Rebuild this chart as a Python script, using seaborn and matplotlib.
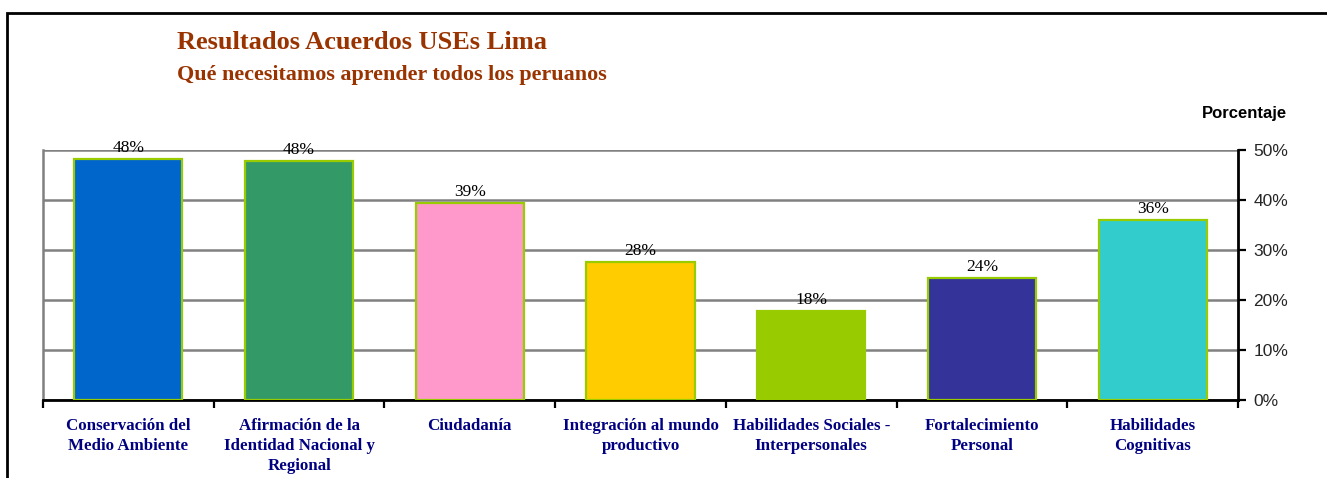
import matplotlib
matplotlib.use("Agg")
import matplotlib.pyplot as plt
import seaborn as sns
import pandas as pd
from matplotlib.patches import Rectangle
from matplotlib.ticker import FixedLocator, FuncFormatter

categories = [
    "Conservación del\nMedio Ambiente",
    "Afirmación de la\nIdentidad Nacional y\nRegional",
    "Ciudadanía",
    "Integración al mundo\nproductivo",
    "Habilidades Sociales -\nInterpersonales",
    "Fortalecimiento\nPersonal",
    "Habilidades\nCognitivas",
]
values = [48.2, 47.8, 39.4, 27.7, 17.8, 24.4, 36.1]
bar_colors = ["#0066CC", "#339966", "#FF99CC", "#FFCC00", "#99CC00", "#333399", "#33CCCC"]
y_ticks = [0, 10, 20, 30, 40, 50]
title = "Resultados Acuerdos USEs Lima"
subtitle = "Qué necesitamos aprender todos los peruanos"
y_title = "Porcentaje"

sns.set_theme(style="white")
plt.rcParams["font.family"] = ["Liberation Serif", "DejaVu Sans"]

W, H = 1327, 478
fig = plt.figure(figsize=(W / 100, H / 100), dpi=100)
fig.patch.set_facecolor("white")
ax = fig.add_axes([43 / W, 78 / H, 1195 / W, 250 / H])

df = pd.DataFrame({"cat": categories, "val": values})
sns.barplot(data=df, x="cat", y="val", hue="cat", palette=bar_colors, legend=False,
            width=0.633, edgecolor="#99CC00", linewidth=1.6, saturation=1, ax=ax, zorder=3)

ax.set_xlim(-0.5, len(categories) - 0.5)
ax.set_ylim(0, 50)
ax.set_xlabel("")
ax.set_ylabel("")

# grid
ax.yaxis.grid(True, color="#808080", linewidth=1.8)
ax.xaxis.grid(False)
ax.set_axisbelow(True)

# spines
ax.spines["left"].set_color("#808080")
ax.spines["left"].set_linewidth(1.8)
ax.spines["top"].set_visible(False)
ax.spines["bottom"].set_color("black")
ax.spines["bottom"].set_linewidth(2)
ax.spines["right"].set_color("black")
ax.spines["right"].set_linewidth(2)

# y axis on right
ax.yaxis.tick_right()
ax.yaxis.set_major_locator(FixedLocator(y_ticks))
ax.yaxis.set_major_formatter(FuncFormatter(lambda v, p: f"{int(v)}%"))
ax.tick_params(axis="y", which="major", direction="out", length=6, width=1.6,
               color="black", labelsize=12.5, pad=5, right=True, left=False)
for lab in ax.get_yticklabels():
    lab.set_fontfamily(["Liberation Sans", "DejaVu Sans"])

# x axis: labels at centers, tick marks at boundaries
ax.set_xticks(range(len(categories)))
ax.set_xticklabels(categories)
ax.set_xticks([i - 0.5 for i in range(len(categories) + 1)], minor=True)
ax.tick_params(axis="x", which="major", length=0, pad=13)
ax.tick_params(axis="x", which="minor", direction="out", length=6, width=1.6,
               color="black", bottom=True)
for lab in ax.get_xticklabels():
    lab.set_fontfamily(["Liberation Serif", "DejaVu Sans"])
    lab.set_fontweight("bold")
    lab.set_fontsize(12.2)
    lab.set_color("#000080")
    lab.set_linespacing(1.32)
    lab.set_verticalalignment("top")

# data labels
for i, v in enumerate(values):
    ax.annotate(f"{round(v)}%", (i, v), xytext=(0, 5), textcoords="offset points",
                ha="center", va="baseline", fontsize=12.5, color="black",
                family=["Liberation Serif", "DejaVu Sans"], zorder=5)

# titles
fig.text(177 / W, 1 - 49 / H, title, ha="left", va="baseline", fontsize=19,
         fontweight="bold", color="#993300", family=["Liberation Serif", "DejaVu Sans"])
fig.text(177 / W, 1 - 80 / H, subtitle, ha="left", va="baseline", fontsize=15.8,
         fontweight="bold", color="#993300", family=["Liberation Serif", "DejaVu Sans"])
fig.text(1287 / W, 1 - 118 / H, y_title, ha="right", va="baseline", fontsize=12,
         fontweight="bold", color="black", family=["Liberation Sans", "DejaVu Sans"])

# outer frame
fig.add_artist(Rectangle((7 / W, -0.2), 2.0, 1 - 13 / H + 0.2, transform=fig.transFigure,
                         fill=False, edgecolor="black", linewidth=2))

fig.savefig("out.png", dpi=100)
